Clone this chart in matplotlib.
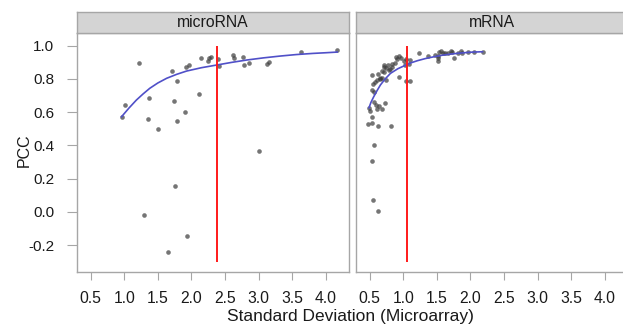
import matplotlib
matplotlib.use("Agg")
import matplotlib.pyplot as plt

plt.rcParams['font.family'] = ['Liberation Sans', 'DejaVu Sans']

# ---- data ----
panels = ["microRNA", "mRNA"]

mirna_sd = [0.96, 1.01, 1.22, 1.37, 1.36, 1.50, 1.71, 1.78, 1.74, 1.79, 1.91, 1.92,
            1.96, 2.12, 2.14, 2.25, 2.26, 2.29, 2.39, 2.41, 2.62, 2.64, 2.77, 2.78,
            2.86, 3.12, 3.16, 3.63, 4.17, 3.00, 1.75, 1.29, 1.93, 1.65]
mirna_pcc = [0.573, 0.643, 0.894, 0.684, 0.557, 0.50, 0.846, 0.788, 0.667, 0.549, 0.603, 0.874,
             0.884, 0.709, 0.928, 0.908, 0.924, 0.930, 0.922, 0.878, 0.944, 0.928, 0.934, 0.884,
             0.898, 0.89, 0.902, 0.964, 0.974, 0.365, 0.158, -0.019, -0.145, -0.241]

mrna_sd = [0.49, 0.51, 0.53, 0.475, 0.54, 0.63, 0.82,
           0.57, 0.54, 0.55, 0.63,
           0.56, 0.60, 0.64, 0.61, 0.68, 0.73,
           0.56, 0.54, 0.55, 0.58, 0.54, 0.63, 0.65, 0.69, 0.61, 0.74, 0.71, 0.75, 0.79,
           0.83, 0.77, 0.83, 0.87, 0.71,
           0.89, 0.94, 0.91, 0.96, 1.01, 1.04, 1.10, 1.03, 1.09,
           0.94, 1.04, 1.10,
           1.23, 1.37, 1.47, 1.56, 1.59, 1.66, 1.71, 1.73, 1.51, 1.52, 1.53, 1.52, 1.62,
           1.76, 1.81, 1.86, 1.88, 1.96, 2.06, 2.18,
           0.72, 0.80, 0.66, 0.68]
mrna_pcc = [0.627, 0.607, 0.573, 0.53, 0.537, 0.52, 0.515,
            0.40, 0.304, 0.07, 0.005,
            0.663, 0.643, 0.637, 0.619, 0.619, 0.653,
            0.72, 0.733, 0.768, 0.783, 0.824, 0.828, 0.807, 0.804, 0.794, 0.794, 0.84, 0.864, 0.854,
            0.874, 0.884, 0.888, 0.894, 0.884,
            0.934, 0.938, 0.92, 0.924, 0.908, 0.92, 0.914, 0.884, 0.888,
            0.81, 0.79, 0.788,
            0.954, 0.94, 0.944, 0.968, 0.954, 0.954, 0.968, 0.96, 0.924, 0.938, 0.964, 0.91, 0.954,
            0.924, 0.954, 0.97, 0.954, 0.96, 0.964, 0.964,
            0.87, 0.86, 0.80, 0.85]

mirna_fit_x = [0.96, 1.07, 1.18, 1.28, 1.38, 1.50, 1.63, 1.78, 1.93, 2.15, 2.375,
               2.60, 2.82, 3.07, 3.32, 3.56, 3.81, 4.00, 4.17]
mirna_fit_y = [0.573, 0.625, 0.673, 0.710, 0.744, 0.776, 0.804, 0.828, 0.848, 0.868, 0.884,
               0.900, 0.914, 0.927, 0.938, 0.947, 0.954, 0.958, 0.962]
mrna_fit_x = [0.49, 0.52, 0.56, 0.61, 0.66, 0.73, 0.81, 0.92, 1.04, 1.12, 1.21,
              1.33, 1.46, 1.58, 1.71, 1.80, 1.90, 2.04, 2.18]
mrna_fit_y = [0.627, 0.660, 0.693, 0.730, 0.764, 0.800, 0.834, 0.862, 0.884, 0.898, 0.910,
              0.923, 0.934, 0.943, 0.950, 0.954, 0.958, 0.962, 0.964]

cutoffs = [2.38, 1.05]
cut_range = [-0.30, 1.0]

xticks = [0.5, 1.0, 1.5, 2.0, 2.5, 3.0, 3.5, 4.0]
yticks = [-0.2, 0.0, 0.2, 0.4, 0.6, 0.8, 1.0]

data = [(mirna_sd, mirna_pcc, mirna_fit_x, mirna_fit_y),
        (mrna_sd, mrna_pcc, mrna_fit_x, mrna_fit_y)]

# ---- figure ----
W, H = 623, 328
fig = plt.figure(figsize=(W / 100, H / 100), dpi=100)

border = '#a6a6a6'
lefts = [76.7, 355.7]
pw = 272.6
top, bot = 33.3, 271.7
strip_top = 11.7
txt = '#1a1a1a'

for i, (name, (sx, sy, fx, fy)) in enumerate(zip(panels, data)):
    ax = fig.add_axes([lefts[i] / W, 1 - bot / H, pw / W, (bot - top) / H])
    ax.scatter(sx, sy, s=11, color='#3a3a3a', alpha=0.7, linewidths=0, zorder=3)
    ax.plot(fx, fy, color='#5050c8', lw=1.2, zorder=4)
    ax.vlines(cutoffs[i], cut_range[0], cut_range[1], color='#ff1a1a', lw=1.4, zorder=5)
    ax.set_xlim(0.292, 4.35)
    ax.set_ylim(-0.36, 1.075)
    for sp in ax.spines.values():
        sp.set_color(border)
        sp.set_linewidth(1.0)
    ax.set_xticks(xticks)
    ax.set_xticklabels([f"{t:.1f}" for t in xticks])
    ax.tick_params(axis='x', length=6, width=0.8, color=border, pad=8,
                   labelsize=11.3, labelcolor=txt)
    if i == 0:
        ax.set_yticks(yticks)
        ax.set_yticklabels([f"{t:.1f}" for t in yticks])
        ax.tick_params(axis='y', length=7, width=0.8, color=border, pad=9,
                       labelsize=11, labelcolor=txt)
    else:
        ax.set_yticks([])
    # strip
    sax = fig.add_axes([lefts[i] / W, 1 - top / H, pw / W, (top - strip_top) / H])
    sax.set_xticks([])
    sax.set_yticks([])
    sax.set_facecolor('#d4d4d4')
    for sp in sax.spines.values():
        sp.set_color(border)
        sp.set_linewidth(1.0)
    sax.text(0.5, 0.48, name, ha='center', va='center', fontsize=11.3,
             color=txt, transform=sax.transAxes)

fig.text(24 / W, 1 - 150 / H, "PCC", rotation=90, ha='center', va='center',
         fontsize=11.5, color=txt)
fig.text(350 / W, 1 - 317 / H, "Standard Deviation (Microarray)", ha='center',
         va='center', fontsize=12.5, color=txt)

fig.savefig("out.png", dpi=100)
